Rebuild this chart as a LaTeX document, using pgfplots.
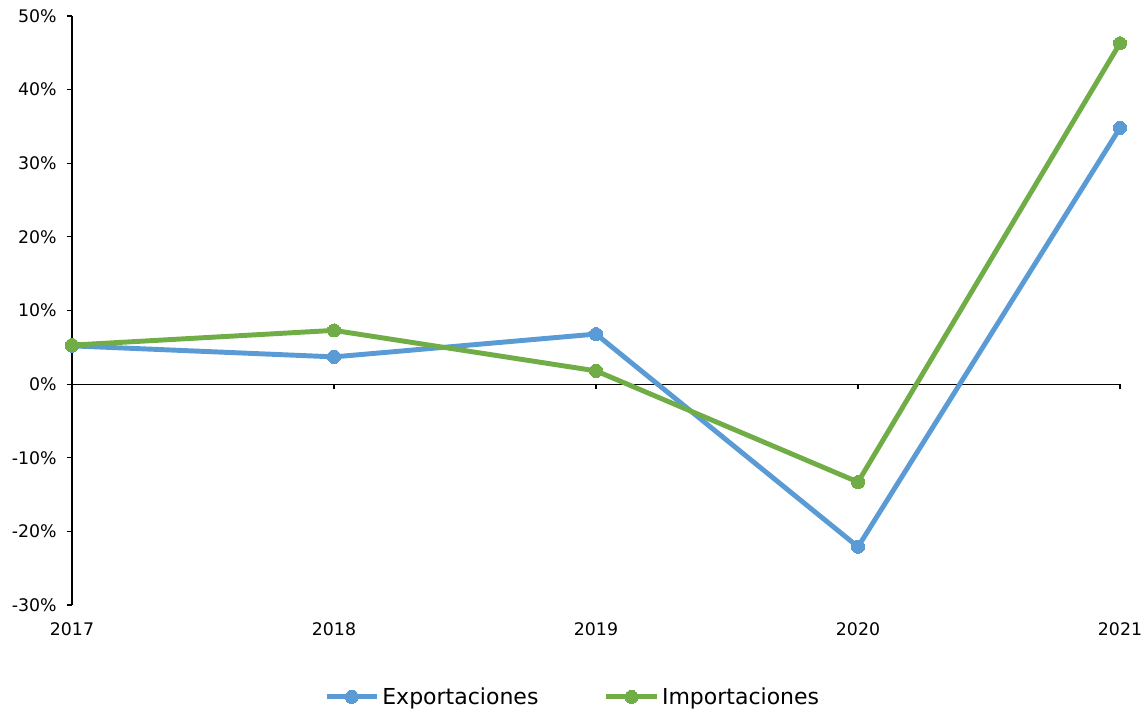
\documentclass[border=0pt]{standalone}
\usepackage{pgfplots}
\pgfplotsset{compat=1.18}
\usepackage{fontspec}
\setmainfont{DejaVu Sans}
\definecolor{expblue}{HTML}{5B9BD5}
\definecolor{impgreen}{HTML}{70AD47}
\begin{document}
\begin{tikzpicture}
\begin{axis}[
  name=main,
  scale only axis,
  width=786pt, height=441.75pt,
  xmin=0, xmax=4, ymin=-30, ymax=50,
  axis y line=left,
  axis x line=middle,
  axis line style={-, black, line width=0.8pt},
  hide obscured x ticks=false,
  xtick={0,1,2,3,4},
  xticklabels={2017,2018,2019,2020,2021},
  ytick={-30,-20,-10,0,10,20,30,40,50},
  yticklabels={-30\%,-20\%,-10\%,0\%,10\%,20\%,30\%,40\%,50\%},
  tick align=outside,
  major tick length=4pt,
  tick style={black, line width=0.8pt},
  xticklabel style={font=\fontsize{13}{15}\selectfont, yshift=-171pt},
  yticklabel style={font=\fontsize{13}{15}\selectfont, xshift=-4pt},
  clip=false,
  legend columns=2,
  legend style={at={(0.478,-0.156)}, anchor=center, draw=none, fill=none,
    font=\fontsize{16.5}{19}\selectfont,
    /tikz/every even column/.append style={column sep=47pt},
    inner sep=0pt},
  legend image code/.code={\draw[mark repeat=2,mark phase=2,#1] plot coordinates {(0pt,0pt) (19pt,0pt) (38pt,0pt)};},
]
\addplot[expblue, line width=3.7pt, mark=*, mark size=4.9pt, mark options={line width=0pt, draw=none, fill=expblue}]
  coordinates {(0,5.2) (1,3.7) (2,6.8) (3,-22.1) (4,34.8)};
\addlegendentry{Exportaciones}
\addplot[impgreen, line width=3.7pt, mark=*, mark size=4.9pt, mark options={line width=0pt, draw=none, fill=impgreen}]
  coordinates {(0,5.3) (1,7.3) (2,1.8) (3,-13.3) (4,46.3)};
\addlegendentry{Importaciones}
\end{axis}
\path[use as bounding box] ([xshift=-54pt,yshift=-79.5pt]main.south west) rectangle ([xshift=21pt,yshift=12pt]main.north east);
\end{tikzpicture}
\end{document}
